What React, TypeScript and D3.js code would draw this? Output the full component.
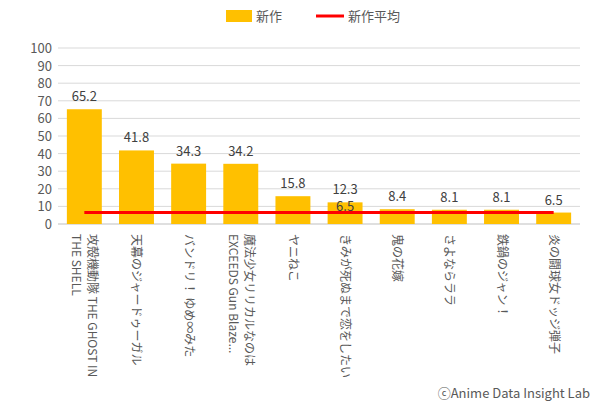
import * as d3 from "d3";

const categories = [
  ["攻殻機動隊 THE GHOST IN", "THE SHELL"],
  ["天幕のジャードゥーガル"],
  ["バンドリ！ ゆめ∞みた"],
  ["魔法少女リリカルなのは", "EXCEEDS Gun Blaze..."],
  ["ヤニねこ"],
  ["きみが死ぬまで恋をしたい"],
  ["鬼の花嫁"],
  ["さよならララ"],
  ["鉄鍋のジャン！"],
  ["炎の闘球女ドッジ弾子"],
];
const values = [65.2, 41.8, 34.3, 34.2, 15.8, 12.3, 8.4, 8.1, 8.1, 6.5];
const average = 6.5;
const yTicks = [0, 10, 20, 30, 40, 50, 60, 70, 80, 90, 100];

const font = "'Noto Sans CJK JP', 'Noto Sans', sans-serif";

export default function App() {
  const W = 600, H = 407;
  const left = 58, right = 580, top = 48, bottom = 224;
  const ids = categories.map((_, i) => String(i));
  const x = d3.scaleBand().domain(ids).range([left, right]).paddingInner(0.33).paddingOuter(0.17);
  const y = d3.scaleLinear().domain([0, 100]).range([bottom, top]);
  const cx = (i: number) => (x(String(i)) ?? 0) + x.bandwidth() / 2;
  const line = d3.line<number>().x((_, i) => cx(i)).y(() => y(average));
  return (
    <svg width={W} height={H} style={{ position: "absolute", left: 0, top: 0 }} fontFamily={font}>
      <rect width={W} height={H} fill="#fff" />
      <g>
        <rect x={226} y={10} width={26} height={12} fill="#FFC000" />
        <text x={256} y={21} fontSize={13} fill="#595959">新作</text>
        <line x1={316} x2={344} y1={16} y2={16} stroke="#FF0000" strokeWidth={3} />
        <text x={348} y={21} fontSize={13} fill="#595959">新作平均</text>
      </g>
      {yTicks.map((t) => (
        <g key={t}>
          <line x1={left} x2={right} y1={y(t)} y2={y(t)} stroke={t === 0 ? "#BFBFBF" : "#D9D9D9"} strokeWidth={1} />
          <text x={left - 6} y={y(t) + 5} textAnchor="end" fontSize={13} fill="#595959">{t}</text>
        </g>
      ))}
      {values.map((v, i) => (
        <g key={i}>
          <rect x={x(String(i))} y={y(v)} width={x.bandwidth()} height={y(0) - y(v)} fill="#FFC000" />
          <text x={cx(i)} y={y(v) - 8} textAnchor="middle" fontSize={13} fill="#404040">{v.toFixed(1)}</text>
        </g>
      ))}
      <path d={line(values) ?? ""} fill="none" stroke="#FF0000" strokeWidth={3} />
      <text x={cx(5)} y={y(average) - 2} textAnchor="middle" fontSize={13} fill="#404040">{average.toFixed(1)}</text>
      {categories.map((lines, i) => (
        <g key={i} transform={`translate(${cx(i)},${bottom + 10}) rotate(90)`}>
          {lines.map((s, j) => (
            <text key={j} x={0} y={(j - (lines.length - 1) / 2) * 16 + 4} fontSize={12} fill="#595959">{s}</text>
          ))}
        </g>
      ))}
      <text x={590} y={398} textAnchor="end" fontSize={13} fill="#595959">ⓒAnime Data Insight Lab</text>
    </svg>
  );
}
